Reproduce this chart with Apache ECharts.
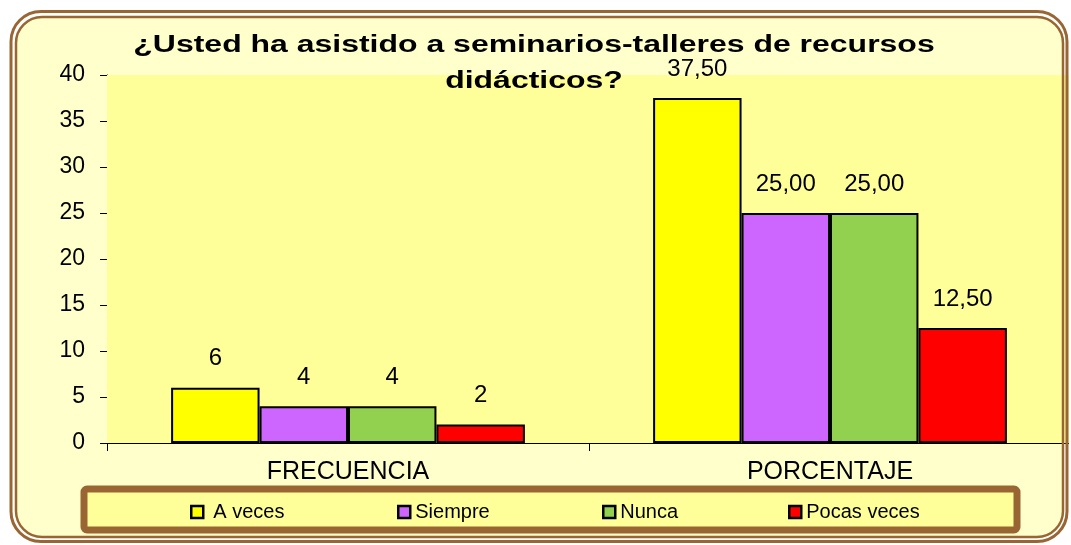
<!DOCTYPE html>
<html>
<head>
<meta charset="utf-8">
<script src="https://cdn.jsdelivr.net/npm/echarts@6/dist/echarts.min.js"></script>
<style>
html,body{margin:0;padding:0;background:#fff;}
#c{width:1071px;height:545px;}
</style>
</head>
<body>
<div id="c"></div>
<script>
const categories = ['FRECUENCIA', 'PORCENTAJE'];
const seriesNames = ['A veces', 'Siempre', 'Nunca', 'Pocas veces'];
const aVeces = [6, 37.5];
const siempre = [4, 25];
const nunca = [4, 25];
const pocasVeces = [2, 12.5];
const yTicks = [0, 40, 5];
const titleText = '¿Usted ha asistido a seminarios-talleres de recursos\ndidácticos?';

const colors = ['#FFFF00', '#CC66FF', '#92D050', '#FF0000'];
const allData = [aVeces, siempre, nunca, pocasVeces];
const FONT = '"Liberation Sans", Arial, sans-serif';
const brown = '#996633';

const chart = echarts.init(document.getElementById('c'), null, {renderer: 'canvas'});

const fmt = function (p) {
  return p.dataIndex === 0 ? String(p.value) : p.value.toFixed(2).replace('.', ',');
};

const series = seriesNames.map(function (n, i) {
  return {
    name: n,
    type: 'bar',
    data: allData[i],
    barGap: '0%',
    barCategoryGap: '26.6%',
    itemStyle: {color: colors[i], borderColor: '#000', borderWidth: 2},
    label: {show: true, position: 'top', distance: 17, formatter: fmt,
      color: '#000', fontFamily: FONT, fontSize: 24},
    z: 3
  };
});

const legendLefts = [185, 392, 597, 783];
const legendGaps = [10, 5, 5, 5];
const legends = seriesNames.map(function (n, i) {
  return {
    data: [n], left: legendLefts[i], top: 497, itemWidth: 12, itemHeight: 12,
    icon: 'rect', selectedMode: false, z: 20,
    itemStyle: {borderColor: '#000', borderWidth: 2.5},
    textStyle: {fontFamily: FONT, fontSize: 20, color: '#000', padding: [0, 0, 0, legendGaps[i] - 5]}
  };
});

chart.setOption({
  animation: false,
  backgroundColor: '#fff',
  color: colors,
  legend: legends,
  grid: {left: 107, right: 0, top: 75, bottom: 102, show: true, backgroundColor: '#FFFF99', borderWidth: 0, z: 1},
  xAxis: {
    type: 'category', data: categories,
    axisLine: {lineStyle: {color: '#000', width: 1}},
    axisTick: {show: true, length: 8, lineStyle: {color: '#000'}},
    axisLabel: {fontFamily: FONT, fontSize: 25, color: '#000', margin: 17}
  },
  yAxis: {
    type: 'value', min: yTicks[0], max: yTicks[1], interval: yTicks[2],
    axisLine: {show: true, lineStyle: {color: '#000', width: 1}},
    axisTick: {show: true, length: 7, lineStyle: {color: '#000'}},
    splitLine: {lineStyle: {color: '#000', width: 1}},
    axisLabel: {fontFamily: FONT, fontSize: 23, color: '#000', margin: 22}
  },
  series: series,
  graphic: [
    {type: 'rect', z: -10, shape: {x: 16, y: 17, width: 1047, height: 520, r: 26}, style: {fill: '#FFFFCC'}},
    {type: 'rect', z: 100, shape: {x: 1069, y: 0, width: 10, height: 545}, style: {fill: '#fff'}},
    {type: 'rect', z: 101, shape: {x: 11, y: 11.5, width: 1056, height: 530, r: 30}, style: {fill: 'none', stroke: brown, lineWidth: 3}},
    {type: 'rect', z: 101, shape: {x: 16, y: 17, width: 1047, height: 520, r: 26}, style: {fill: 'none', stroke: brown, lineWidth: 2.5}},
    {type: 'rect', z: 1, shape: {x: 84, y: 489, width: 933, height: 41, r: 3}, style: {fill: '#FFFF99', stroke: brown, lineWidth: 7}},
    {type: 'text', z: 50, x: 534, y: 28, scaleX: 1.39,
      style: {text: titleText, font: 'bold 23px ' + FONT, fill: '#000', textAlign: 'center', textVerticalAlign: 'top', lineHeight: 36}}
  ]
});
</script>
</body>
</html>
